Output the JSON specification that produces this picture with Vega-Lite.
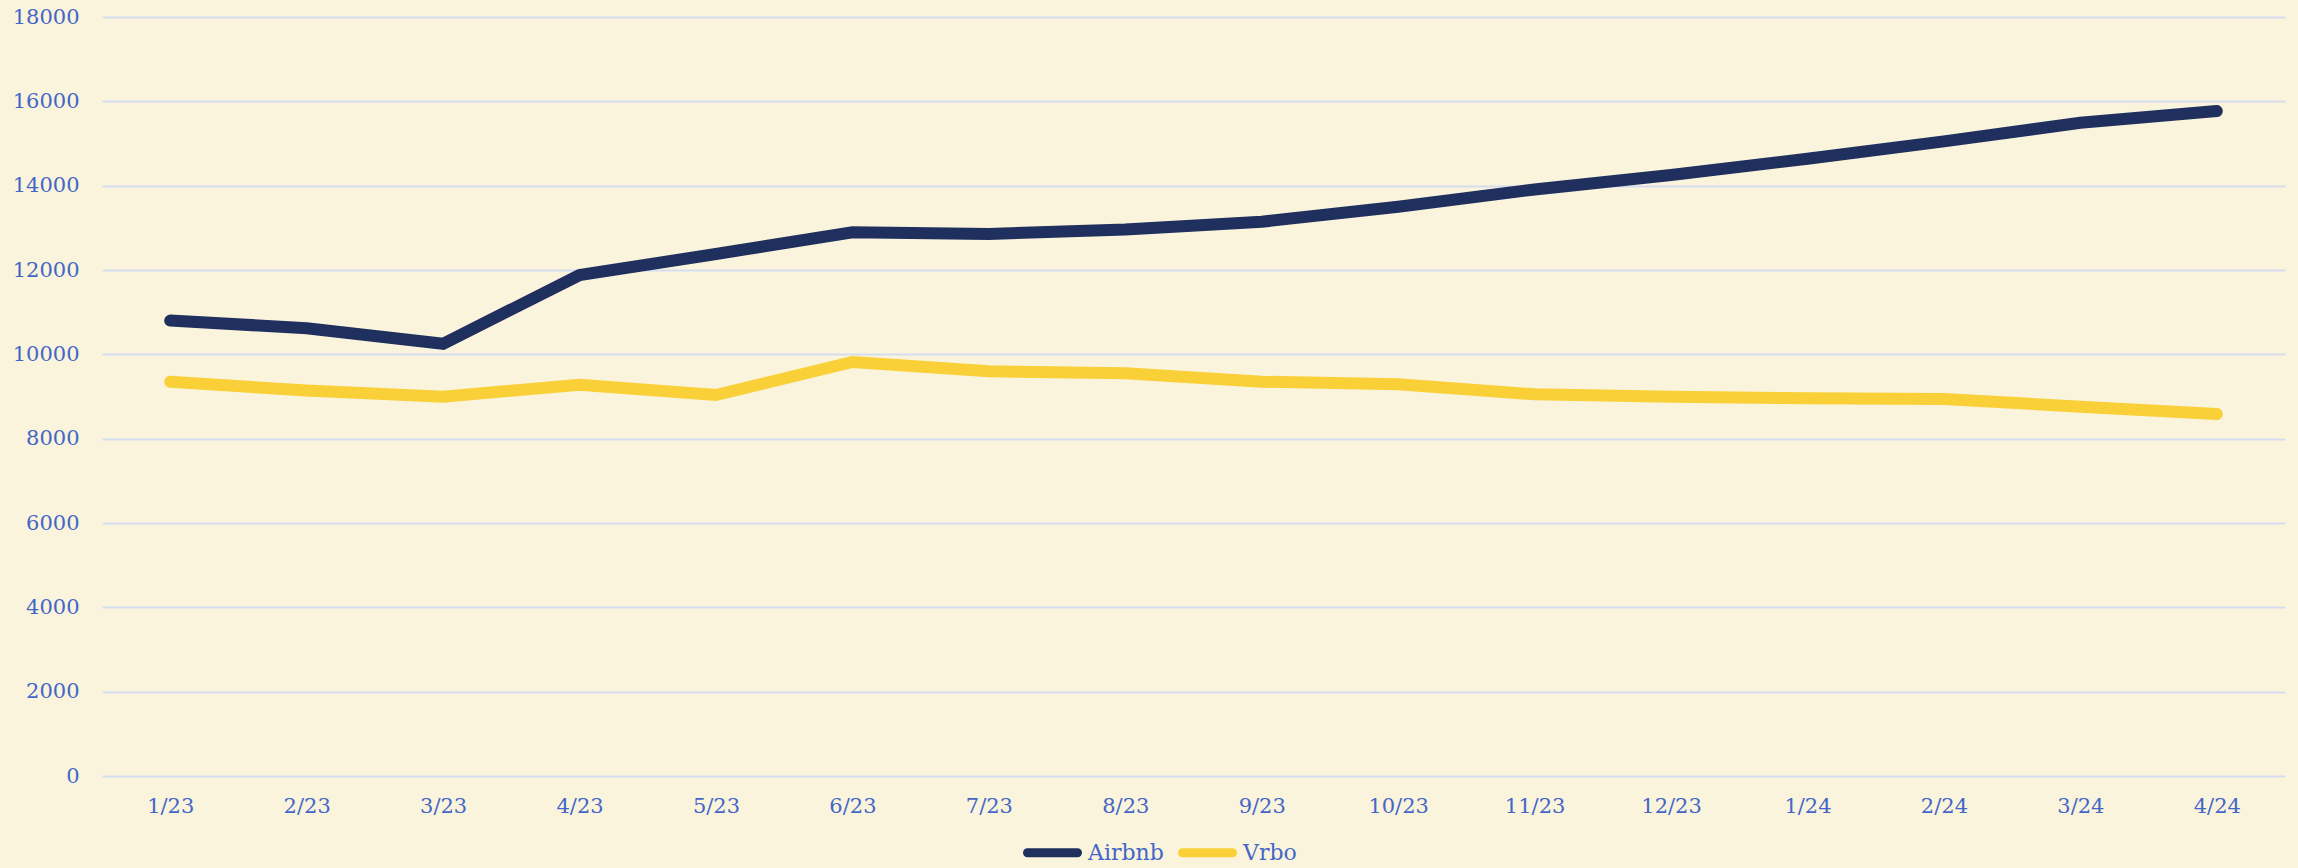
{
  "$schema": "https://vega.github.io/schema/vega-lite/v6.json",
  "width": 2183,
  "height": 759,
  "autosize": {"type": "none"},
  "padding": {"left": 102, "top": 17, "right": 13, "bottom": 92},
  "background": "#FAF4DC",
  "config": {"view": {"stroke": null}, "font": "DejaVu Serif"},
  "data": {
    "values": [
      {"month": "1/23", "platform": "Airbnb", "value": 10800},
      {"month": "2/23", "platform": "Airbnb", "value": 10620},
      {"month": "3/23", "platform": "Airbnb", "value": 10250},
      {"month": "4/23", "platform": "Airbnb", "value": 11880},
      {"month": "5/23", "platform": "Airbnb", "value": 12380},
      {"month": "6/23", "platform": "Airbnb", "value": 12895},
      {"month": "7/23", "platform": "Airbnb", "value": 12855},
      {"month": "8/23", "platform": "Airbnb", "value": 12960},
      {"month": "9/23", "platform": "Airbnb", "value": 13145},
      {"month": "10/23", "platform": "Airbnb", "value": 13500},
      {"month": "11/23", "platform": "Airbnb", "value": 13910},
      {"month": "12/23", "platform": "Airbnb", "value": 14255},
      {"month": "1/24", "platform": "Airbnb", "value": 14640},
      {"month": "2/24", "platform": "Airbnb", "value": 15050},
      {"month": "3/24", "platform": "Airbnb", "value": 15490},
      {"month": "4/24", "platform": "Airbnb", "value": 15770},
      {"month": "1/23", "platform": "Vrbo", "value": 9350},
      {"month": "2/23", "platform": "Vrbo", "value": 9140},
      {"month": "3/23", "platform": "Vrbo", "value": 8995},
      {"month": "4/23", "platform": "Vrbo", "value": 9280},
      {"month": "5/23", "platform": "Vrbo", "value": 9035},
      {"month": "6/23", "platform": "Vrbo", "value": 9818},
      {"month": "7/23", "platform": "Vrbo", "value": 9597},
      {"month": "8/23", "platform": "Vrbo", "value": 9550},
      {"month": "9/23", "platform": "Vrbo", "value": 9351},
      {"month": "10/23", "platform": "Vrbo", "value": 9289},
      {"month": "11/23", "platform": "Vrbo", "value": 9052},
      {"month": "12/23", "platform": "Vrbo", "value": 8995},
      {"month": "1/24", "platform": "Vrbo", "value": 8956},
      {"month": "2/24", "platform": "Vrbo", "value": 8940},
      {"month": "3/24", "platform": "Vrbo", "value": 8758},
      {"month": "4/24", "platform": "Vrbo", "value": 8585}
    ]
  },
  "mark": {"type": "line", "strokeWidth": 12, "strokeCap": "round"},
  "encoding": {
    "x": {
      "field": "month",
      "type": "ordinal",
      "sort": null,
      "scale": {"type": "point", "padding": 0.5},
      "axis": {
        "title": null,
        "domain": false,
        "ticks": false,
        "grid": false,
        "labelAngle": 0,
        "labelPadding": 19,
        "labelFontSize": 21,
        "labelColor": "#4466C8",
        "labelFont": "DejaVu Serif"
      }
    },
    "y": {
      "field": "value",
      "type": "quantitative",
      "scale": {"domain": [0, 18000], "nice": false},
      "axis": {
        "title": null,
        "values": [0, 2000, 4000, 6000, 8000, 10000, 12000, 14000, 16000, 18000],
        "format": "d",
        "domain": false,
        "ticks": false,
        "grid": true,
        "gridColor": "#D5DCF0",
        "gridWidth": 2,
        "labelPadding": 23,
        "labelFontSize": 21,
        "labelColor": "#4466C8",
        "labelFont": "DejaVu Serif"
      }
    },
    "color": {
      "field": "platform",
      "type": "nominal",
      "scale": {"domain": ["Airbnb", "Vrbo"], "range": ["#1F2F5E", "#F9D038"]},
      "legend": {
        "title": null,
        "orient": "none",
        "direction": "horizontal",
        "legendX": 921,
        "legendY": 806,
        "symbolType": "stroke",
        "symbolSize": 2500,
        "symbolStrokeWidth": 9,
        "labelOffset": 6,
        "columnPadding": 0,
        "labelFontSize": 22,
        "labelColor": "#4466C8",
        "labelFont": "DejaVu Serif",
        "encode": {"symbols": {"update": {"strokeCap": {"value": "round"}}}}
      }
    }
  }
}
